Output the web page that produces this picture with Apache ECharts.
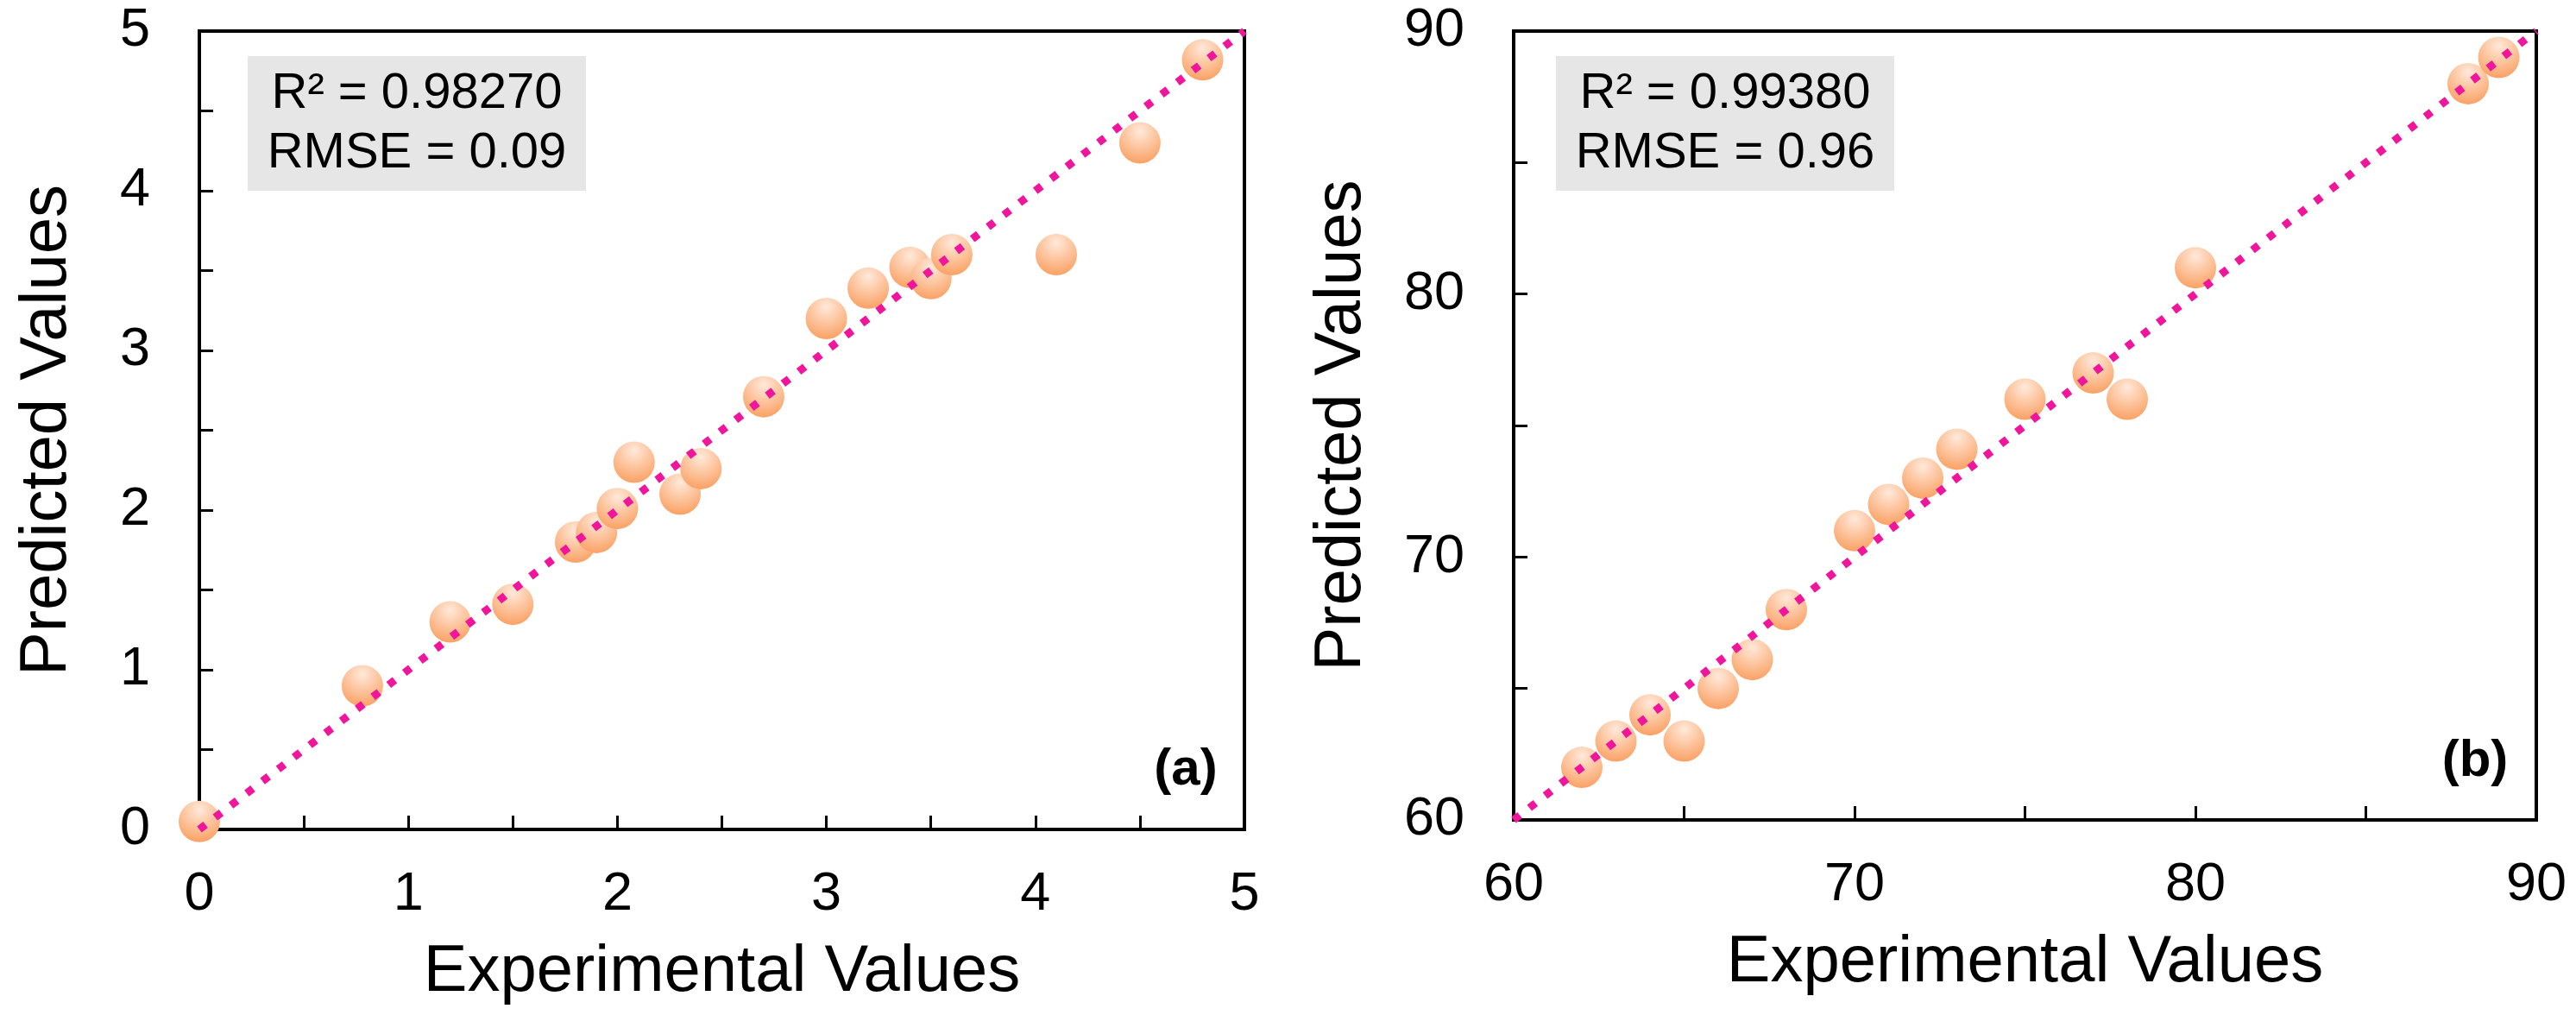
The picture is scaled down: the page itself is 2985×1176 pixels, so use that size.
<!DOCTYPE html>
<html>
<head>
<meta charset="utf-8">
<script src="https://cdn.jsdelivr.net/npm/echarts@6/dist/echarts.min.js"></script>
<style>
    html, body { margin: 0; padding: 0; background: #fff; }
    #main { width: 2985px; height: 1176px; }
</style>
</head>
<body>
<div id="main"></div>
<script>
/* experimental vs predicted, two panels */

// panel (a)
var expA = [0, 0.78, 1.2, 1.5, 1.8, 1.9, 2.0, 2.08, 2.3, 2.4, 2.7, 3.0, 3.2, 3.4, 3.5, 3.6, 4.1, 4.5, 4.8];
var predA = [0.05, 0.9, 1.3, 1.41, 1.8, 1.86, 2.01, 2.3, 2.1, 2.26, 2.71, 3.2, 3.39, 3.52, 3.45, 3.6, 3.6, 4.3, 4.82];
var rangeA = [0, 5];
var statsA = ['R² = 0.98270', 'RMSE = 0.09'];

// panel (b)
var expB = [62, 63, 64, 65, 66, 67, 68, 70, 71, 72, 73, 75, 77, 78, 80, 88, 88.9];
var predB = [62, 63, 64, 63, 65, 66.1, 68, 71, 72, 73, 74.1, 76, 77, 76, 81, 88, 89];
var rangeB = [60, 90];
var statsB = ['R² = 0.99380', 'RMSE = 0.96'];

var panelTags = ['(a)', '(b)'];
var xName = 'Experimental Values';
var yName = 'Predicted Values';

var FONT = '"Liberation Sans", Arial, Helvetica, sans-serif';

function pairs(xs, ys) {
    var out = [];
    for (var i = 0; i < xs.length; i++) {
        out.push([xs[i], ys[i]]);
    }
    return out;
}

function makeAxis(gridIndex, range, step, labelStep, name, nameGap, isY) {
    return {
        type: 'value',
        gridIndex: gridIndex,
        min: range[0],
        max: range[1],
        interval: step,
        name: name,
        nameLocation: 'middle',
        nameGap: nameGap,
        nameRotate: isY ? 90 : 0,
        nameTextStyle: { fontSize: 76, color: '#000', fontFamily: FONT },
        axisLine: { show: true, onZero: false, lineStyle: { color: '#000', width: 4 } },
        axisTick: { show: true, inside: true, length: 16, lineStyle: { color: '#000', width: 3 } },
        axisLabel: {
            fontSize: 63,
            color: '#000',
            fontFamily: FONT,
            margin: isY ? 57 : 44,
            showMinLabel: true,
            showMaxLabel: true,
            hideOverlap: false,
            formatter: function (v) {
                var k = v / labelStep;
                return Math.abs(k - Math.round(k)) < 1e-6 ? String(Math.round(v)) : '';
            }
        },
        splitLine: { show: false }
    };
}

var ballColor = {
    type: 'radial', x: 0.5, y: 0.22, r: 0.85,
    colorStops: [
        { offset: 0, color: '#ffe9da' },
        { offset: 1, color: '#fa9b5a' }
    ]
};

function scatterSeries(idx, xs, ys) {
    return {
        type: 'scatter',
        xAxisIndex: idx,
        yAxisIndex: idx,
        symbolSize: 48,
        itemStyle: { color: ballColor, opacity: 1 },
        data: pairs(xs, ys),
        z: 2
    };
}

function diagSeries(idx, range) {
    return {
        type: 'line',
        xAxisIndex: idx,
        yAxisIndex: idx,
        symbol: 'none',
        silent: true,
        lineStyle: { color: '#f0169c', width: 9, type: [9, 14], cap: 'butt' },
        data: [[range[0], range[0]], [range[1], range[1]]],
        z: 3
    };
}

function statsBox(left, top, lines) {
    return {
        type: 'group',
        left: left,
        top: top,
        children: [
            { type: 'rect', shape: { x: 0, y: 0, width: 392, height: 156 }, style: { fill: '#e6e6e6' } },
            { type: 'text', style: { x: 196, y: 44, text: lines[0], font: '58px ' + FONT, fill: '#000', align: 'center', verticalAlign: 'middle' } },
            { type: 'text', style: { x: 196, y: 113, text: lines[1], font: '58px ' + FONT, fill: '#000', align: 'center', verticalAlign: 'middle' } }
        ]
    };
}

function tag(x, y, text) {
    return {
        type: 'text',
        style: { x: x, y: y, text: text, font: 'bold 60px ' + FONT, fill: '#000', align: 'center', verticalAlign: 'middle' }
    };
}

var chart = echarts.init(document.getElementById('main'), null, { renderer: 'canvas' });

var option = {
    animation: false,
    backgroundColor: '#fff',
    grid: [
        { left: 231, top: 36, width: 1211, height: 925, show: true, borderColor: '#000', borderWidth: 4, containLabel: false },
        { left: 1754, top: 36, width: 1185, height: 914, show: true, borderColor: '#000', borderWidth: 4, containLabel: false }
    ],
    xAxis: [
        makeAxis(0, rangeA, 0.5, 1, xName, 128, false),
        makeAxis(1, rangeB, 5, 10, xName, 128, false)
    ],
    yAxis: [
        makeAxis(0, rangeA, 0.5, 1, yName, 138, true),
        makeAxis(1, rangeB, 5, 10, yName, 161, true)
    ],
    series: [
        scatterSeries(0, expA, predA),
        diagSeries(0, rangeA),
        scatterSeries(1, expB, predB),
        diagSeries(1, rangeB)
    ],
    graphic: [
        statsBox(287, 65, statsA),
        statsBox(1803, 65, statsB),
        tag(1374, 892, panelTags[0]),
        tag(2868, 882, panelTags[1])
    ]
};

chart.setOption(option);
</script>
</body>
</html>
